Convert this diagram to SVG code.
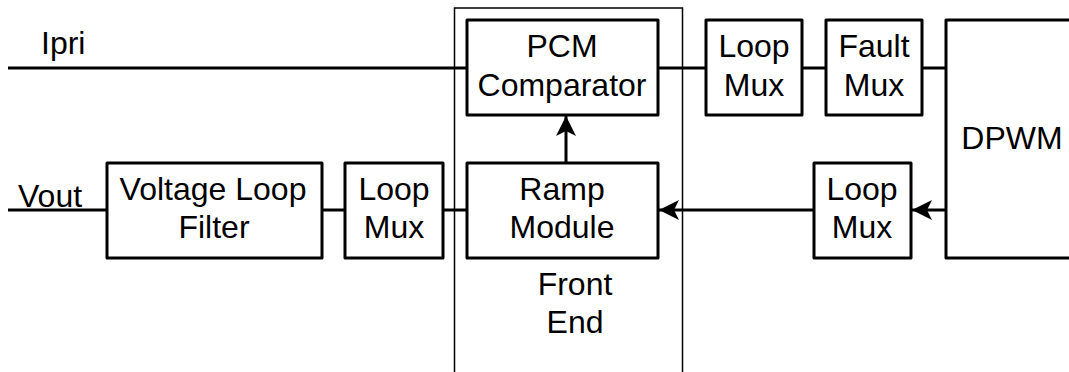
<svg xmlns="http://www.w3.org/2000/svg" width="1069" height="372" viewBox="0 0 1069 372">
<style>
.box{fill:#fff;stroke:#000;stroke-width:3;stroke-linejoin:round}
.frame{fill:none;stroke:#000;stroke-width:1.5}
.wire{fill:none;stroke:#000;stroke-width:3}
text{font-family:"Liberation Sans",Arial,sans-serif;font-size:32px;fill:#000;text-anchor:middle}
.lbl{text-anchor:start}
</style>
<defs>
<marker id="arr" viewBox="0 0 20 20" refX="20" refY="10" markerWidth="20" markerHeight="20" markerUnits="userSpaceOnUse" orient="auto">
<path d="M0,0 L20,10 L0,20 L5,10 Z" fill="#000"/>
</marker>
</defs>
<g id="frontend">
<rect class="frame" x="454.5" y="8" width="228" height="380"/>
<text x="575" y="295">Front</text>
<text x="575" y="333">End</text>
</g>
<g id="connectors">
<line class="wire" x1="8" y1="68" x2="467" y2="68"/>
<line class="wire" x1="658" y1="68" x2="706" y2="68"/>
<line class="wire" x1="802" y1="68" x2="826" y2="68"/>
<line class="wire" x1="922" y1="68" x2="946" y2="68"/>
<line class="wire" x1="8" y1="210" x2="107" y2="210"/>
<line class="wire" x1="322" y1="210" x2="345" y2="210"/>
<line class="wire" x1="443" y1="210" x2="467" y2="210"/>
<line class="wire" x1="566" y1="163" x2="566" y2="116" marker-end="url(#arr)"/>
<line class="wire" x1="814" y1="210" x2="659" y2="210" marker-end="url(#arr)"/>
<line class="wire" x1="946" y1="210" x2="912" y2="210" marker-end="url(#arr)"/>
</g>
<g id="ipri"><text class="lbl" x="41" y="54">Ipri</text></g>
<g id="vout"><text class="lbl" x="18" y="207">Vout</text></g>
<g id="vlf">
<rect class="box" x="107" y="163" width="215" height="95"/>
<text x="213" y="200">Voltage Loop</text>
<text x="214" y="238">Filter</text>
</g>
<g id="loopmux1">
<rect class="box" x="345" y="163" width="98" height="95"/>
<text x="394" y="200">Loop</text>
<text x="394" y="238">Mux</text>
</g>
<g id="pcm">
<rect class="box" x="467" y="20" width="191" height="95"/>
<text x="562" y="57">PCM</text>
<text x="562" y="96">Comparator</text>
</g>
<g id="ramp">
<rect class="box" x="467" y="163" width="191" height="95"/>
<text x="562" y="200">Ramp</text>
<text x="562" y="238">Module</text>
</g>
<g id="loopmux2">
<rect class="box" x="706" y="20" width="96" height="95"/>
<text x="754" y="57">Loop</text>
<text x="754" y="96">Mux</text>
</g>
<g id="faultmux">
<rect class="box" x="826" y="20" width="96" height="95"/>
<text x="874" y="57">Fault</text>
<text x="874" y="96">Mux</text>
</g>
<g id="loopmux3">
<rect class="box" x="814" y="163" width="97" height="95"/>
<text x="862" y="200">Loop</text>
<text x="862" y="238">Mux</text>
</g>
<g id="dpwm">
<rect class="box" x="946" y="20" width="140" height="238"/>
<text x="1012" y="149">DPWM</text>
</g>
</svg>
